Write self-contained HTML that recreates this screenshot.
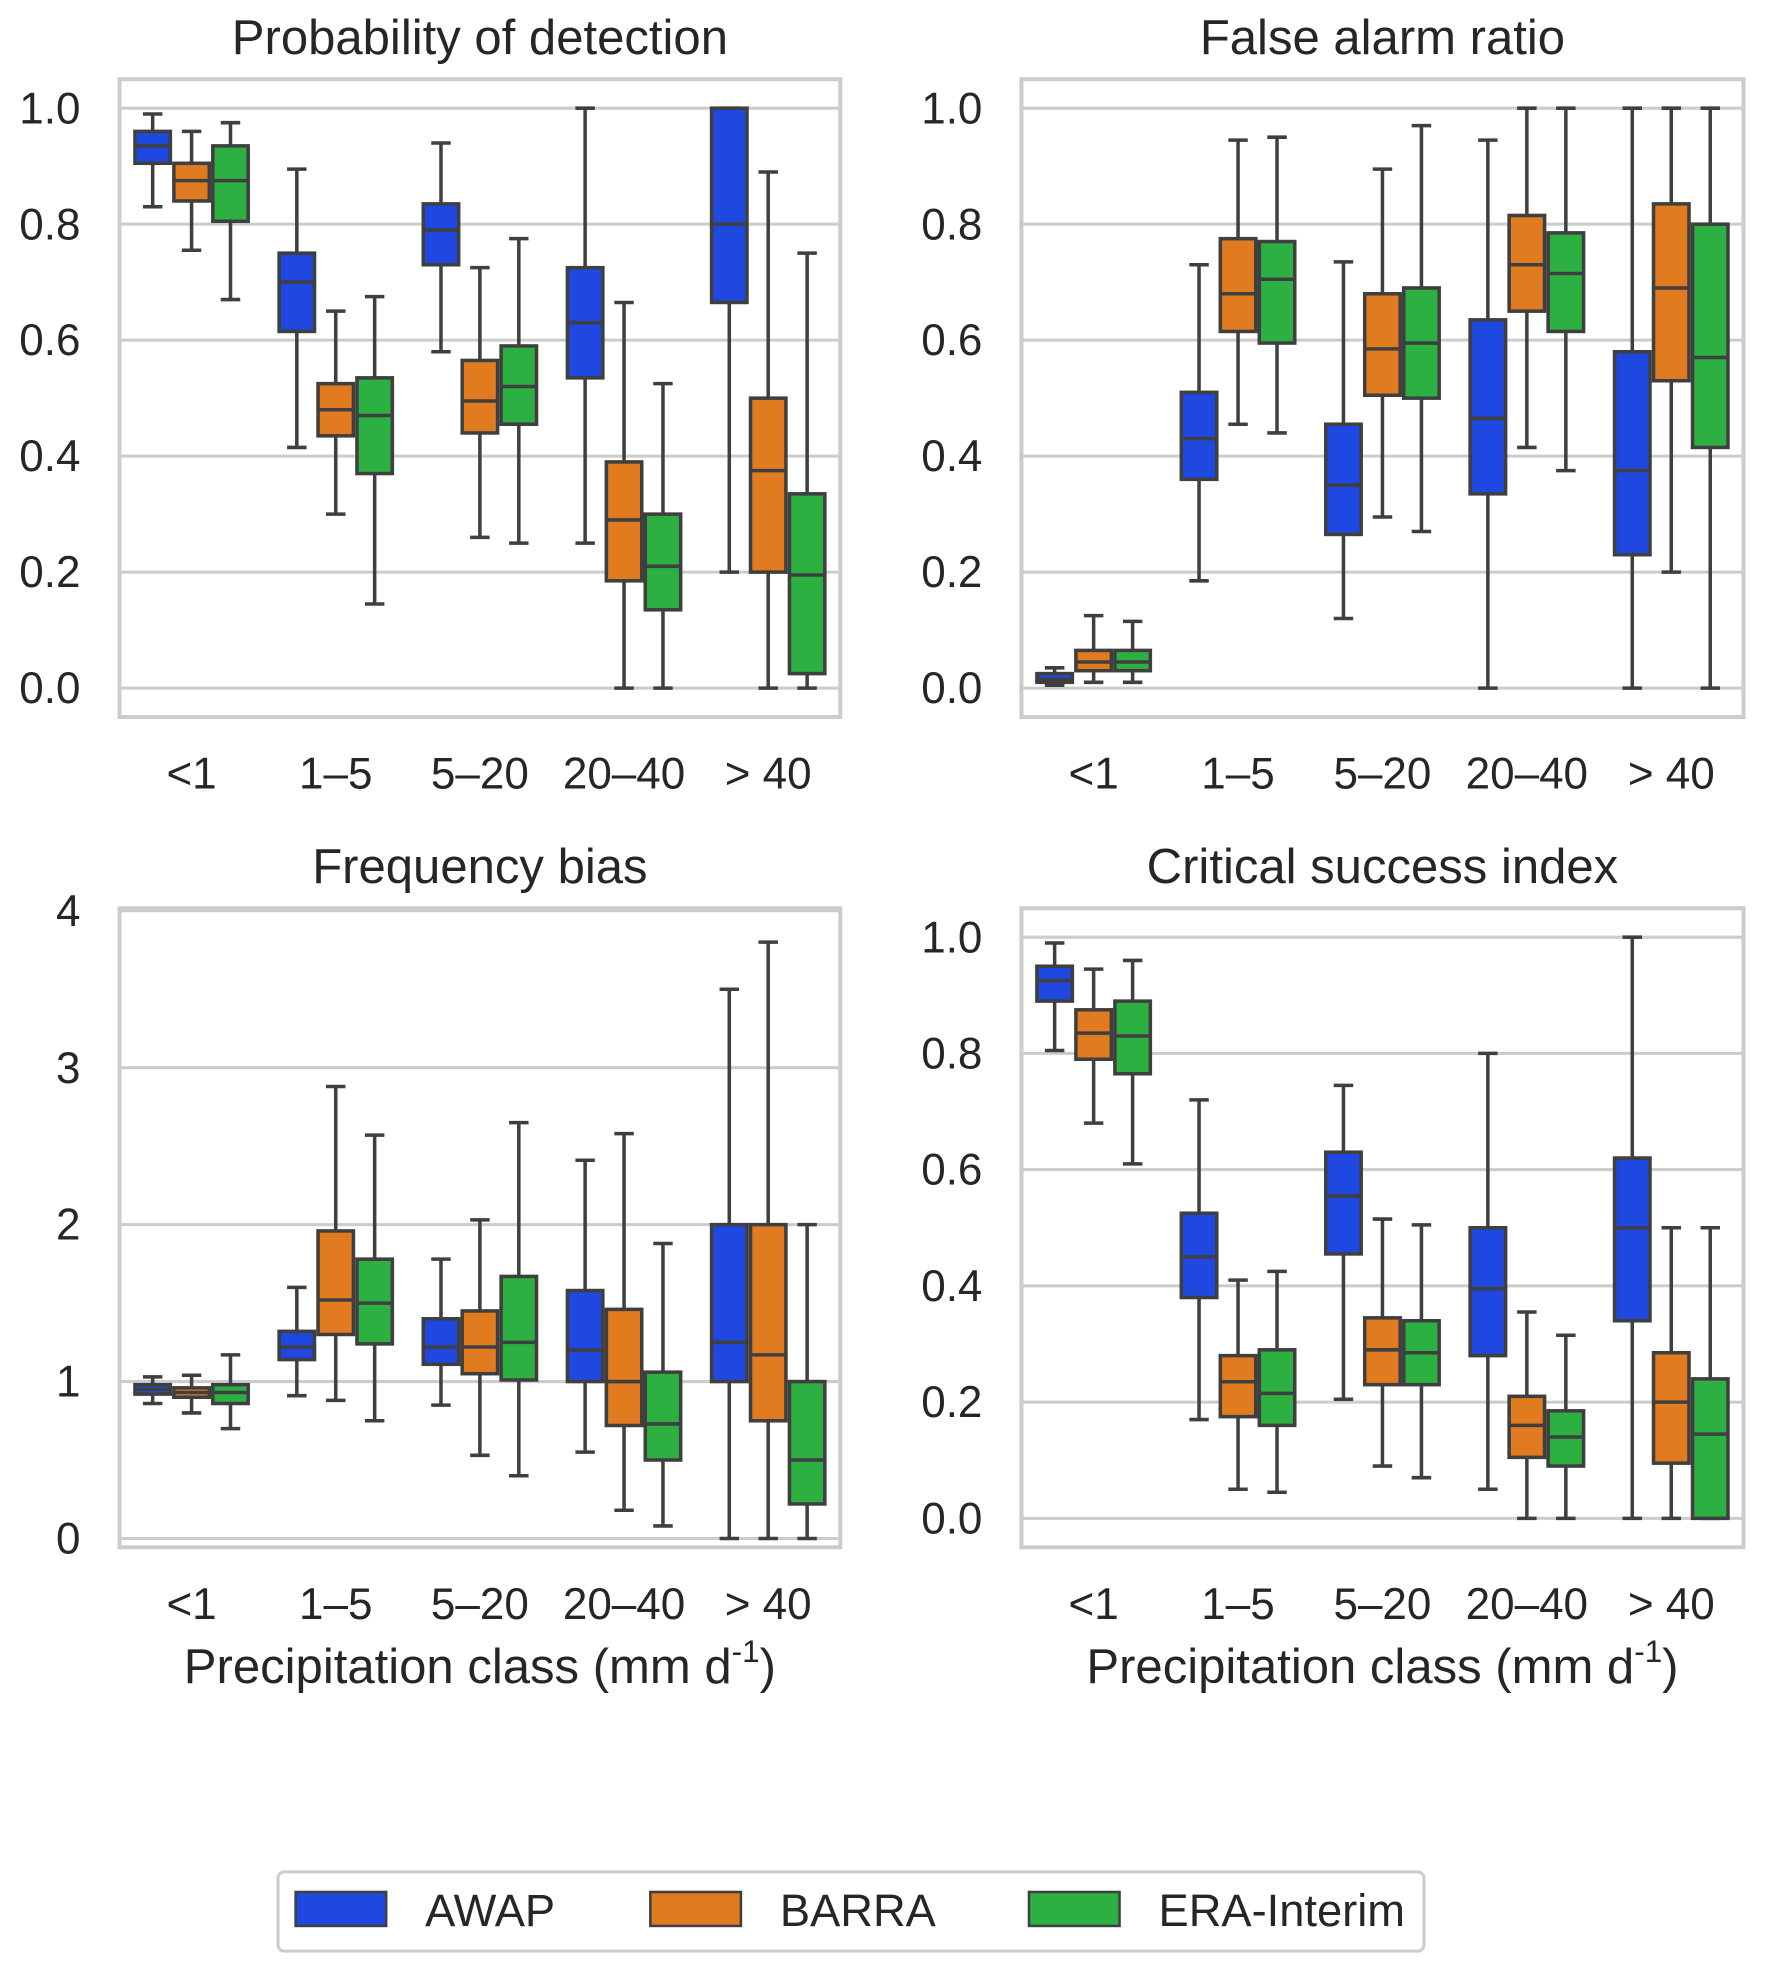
<!DOCTYPE html>
<html><head><meta charset="utf-8"><style>
html,body{margin:0;padding:0;background:#fff;}
svg{display:block;font-family:"Liberation Sans",sans-serif;}
</style></head><body>
<svg id="fig" width="1768" height="1975" viewBox="0 0 1405.5 1570" preserveAspectRatio="none" xmlns="http://www.w3.org/2000/svg"></svg>
<script>
const categories = ["<1","1\u20135","5\u201320","20\u201340","> 40"];
const seriesNames = ["AWAP","BARRA","ERA-Interim"];
const seriesColors = ["#1f48e0","#e07b1f","#2bb041"];
// each box: [whiskerLow, q1, median, q3, whiskerHigh]
const podAWAP  = [[0.83,0.905,0.935,0.96,0.99],[0.415,0.615,0.70,0.75,0.895],[0.58,0.73,0.79,0.835,0.94],[0.25,0.535,0.63,0.725,1.0],[0.2,0.665,0.8,1.0,1.0]];
const podBARRA = [[0.755,0.84,0.875,0.905,0.96],[0.30,0.435,0.48,0.525,0.65],[0.26,0.44,0.495,0.565,0.725],[0,0.185,0.29,0.39,0.665],[0,0.2,0.375,0.5,0.89]];
const podERA   = [[0.67,0.805,0.875,0.935,0.975],[0.145,0.37,0.47,0.535,0.675],[0.25,0.455,0.52,0.59,0.775],[0,0.135,0.21,0.30,0.525],[0,0.025,0.195,0.335,0.75]];
const farAWAP  = [[0.005,0.01,0.015,0.025,0.035],[0.185,0.36,0.43,0.51,0.73],[0.12,0.265,0.35,0.455,0.735],[0,0.335,0.465,0.635,0.945],[0,0.23,0.375,0.58,1.0]];
const farBARRA = [[0.01,0.03,0.045,0.065,0.125],[0.455,0.615,0.68,0.775,0.945],[0.295,0.505,0.585,0.68,0.895],[0.415,0.65,0.73,0.815,1.0],[0.2,0.53,0.69,0.835,1.0]];
const farERA   = [[0.01,0.03,0.045,0.065,0.115],[0.44,0.595,0.705,0.77,0.95],[0.27,0.50,0.595,0.69,0.97],[0.375,0.615,0.715,0.785,1.0],[0,0.415,0.57,0.80,1.0]];
const fbAWAP   = [[0.86,0.92,0.95,0.98,1.03],[0.91,1.14,1.22,1.32,1.6],[0.85,1.11,1.22,1.4,1.78],[0.55,1.0,1.2,1.58,2.41],[0,1.0,1.25,2.0,3.5]];
const fbBARRA  = [[0.8,0.9,0.93,0.96,1.04],[0.88,1.3,1.52,1.96,2.88],[0.53,1.05,1.22,1.45,2.03],[0.18,0.72,1.0,1.46,2.58],[0,0.75,1.17,2.0,3.8]];
const fbERA    = [[0.7,0.86,0.93,0.98,1.17],[0.75,1.24,1.5,1.78,2.57],[0.4,1.01,1.25,1.67,2.65],[0.08,0.5,0.73,1.06,1.88],[0,0.22,0.5,1.0,2.0]];
const csiAWAP  = [[0.805,0.89,0.925,0.95,0.99],[0.17,0.38,0.45,0.525,0.72],[0.205,0.455,0.555,0.63,0.745],[0.05,0.28,0.395,0.5,0.80],[0,0.34,0.5,0.62,1.0]];
const csiBARRA = [[0.68,0.79,0.835,0.875,0.945],[0.05,0.175,0.235,0.28,0.41],[0.09,0.23,0.29,0.345,0.515],[0,0.105,0.16,0.21,0.355],[0,0.095,0.2,0.285,0.5]];
const csiERA   = [[0.61,0.765,0.83,0.89,0.96],[0.045,0.16,0.215,0.29,0.425],[0.07,0.23,0.285,0.34,0.505],[0,0.09,0.14,0.185,0.315],[0,0,0.145,0.24,0.5]];
const unitTicks = ["0.0","0.2","0.4","0.6","0.8","1.0"];
const biasTicks = ["0","1","2","3","4"];

const NS="http://www.w3.org/2000/svg";
const svg=document.getElementById('fig');
function mk(tag,attrs,parent){const e=document.createElementNS(NS,tag);for(const k in attrs)e.setAttribute(k,attrs[k]);(parent||svg).appendChild(e);return e;}

const panels=[
 {name:"pod",title:"Probability of detection",x0:95,x1:668,y0:63,y1:570,vTop:1.0,pTop:86,vBot:0,pBot:547,ticks:unitTicks,data:[podAWAP,podBARRA,podERA],xlab:false},
 {name:"far",title:"False alarm ratio",x0:812,x1:1386,y0:63,y1:570,vTop:1.0,pTop:86,vBot:0,pBot:547,ticks:unitTicks,data:[farAWAP,farBARRA,farERA],xlab:false},
 {name:"frequency-bias",title:"Frequency bias",x0:95,x1:668,y0:722,y1:1230,vTop:4,pTop:724,vBot:0,pBot:1223,ticks:biasTicks,data:[fbAWAP,fbBARRA,fbERA],xlab:true},
 {name:"csi",title:"Critical success index",x0:812,x1:1386,y0:722,y1:1230,vTop:1.0,pTop:745,vBot:0,pBot:1207,ticks:unitTicks,data:[csiAWAP,csiBARRA,csiERA],xlab:true}
];
panels.forEach(p=>{
  const g=mk('g',{});
  
  
  const ys=v=>p.pBot+(v-p.vBot)*(p.pTop-p.pBot)/(p.vTop-p.vBot);
  const bw=(p.x1-p.x0)/categories.length;
  const xs=i=>p.x0+bw*(i+0.5);
  p.ticks.forEach(t=>{
    const y=ys(parseFloat(t));
    const l=mk('line',{x1:p.x0,x2:p.x1,y1:y,y2:y,stroke:'#cccccc','stroke-width':2.4},g);
     
    const tx=mk('text',{x:p.x0-31,y:y+12,'text-anchor':'end','font-size':35,fill:'#262626'},g);
    tx.textContent=t;
     
  });
  const boxW=bw*0.27;
  p.data.forEach((ser,s)=>{
    ser.forEach((d,i)=>{
      const cx=xs(i)+(s-1)*boxW;
      const bg=mk('g',{},g);
      
      
      const c='#3f3f3f',sw=2.8;
      mk('line',{x1:cx,x2:cx,y1:ys(d[0]),y2:ys(d[1]),stroke:c,'stroke-width':sw},bg);
      mk('line',{x1:cx,x2:cx,y1:ys(d[3]),y2:ys(d[4]),stroke:c,'stroke-width':sw},bg);
      mk('line',{x1:cx-boxW/4,x2:cx+boxW/4,y1:ys(d[0]),y2:ys(d[0]),stroke:c,'stroke-width':sw},bg);
      mk('line',{x1:cx-boxW/4,x2:cx+boxW/4,y1:ys(d[4]),y2:ys(d[4]),stroke:c,'stroke-width':sw},bg);
      mk('rect',{x:cx-boxW/2+1.4,y:ys(d[3]),width:boxW-2.8,height:Math.max(ys(d[1])-ys(d[3]),0.5),fill:seriesColors[s],stroke:c,'stroke-width':sw},bg);
      mk('line',{x1:cx-boxW/2+1.4,x2:cx+boxW/2-1.4,y1:ys(d[2]),y2:ys(d[2]),stroke:c,'stroke-width':sw},bg);
    });
  });
  const fr=mk('rect',{x:p.x0,y:p.y0,width:p.x1-p.x0,height:p.y1-p.y0,fill:'none',stroke:'#cccccc','stroke-width':3.2},g);
   
  categories.forEach((c,i)=>{
    const t=mk('text',{x:xs(i),y:p.y1+57,'text-anchor':'middle','font-size':35,fill:'#262626'},g);
    t.textContent=c;
     
  });
  const tt=mk('text',{x:(p.x0+p.x1)/2,y:p.y0-20,'text-anchor':'middle','font-size':39,fill:'#262626'},g);
  tt.textContent=p.title;
   
  if(p.xlab){
    const xl=mk('text',{x:(p.x0+p.x1)/2,y:p.y1+108,'text-anchor':'middle','font-size':39,fill:'#262626'},g);
    xl.innerHTML='Precipitation class (mm d<tspan dy="-17" font-size="25">-1</tspan><tspan dy="17">)</tspan>';
     
  }
});
const lg=mk('g',{});


mk('rect',{x:221,y:1488,width:911,height:63,rx:5,fill:'#fff',stroke:'#cccccc','stroke-width':2.4},lg);
const lx=[235,517,818];
seriesNames.forEach((n,s)=>{
  const e=mk('g',{},lg);
  
  
  mk('rect',{x:lx[s],y:1504,width:72,height:27,fill:seriesColors[s],stroke:'#3f3f3f','stroke-width':2},e);
  const t=mk('text',{x:lx[s]+103,y:1531,'font-size':36,fill:'#262626'},e);
  t.textContent=n;
});
</script>
</body></html>
